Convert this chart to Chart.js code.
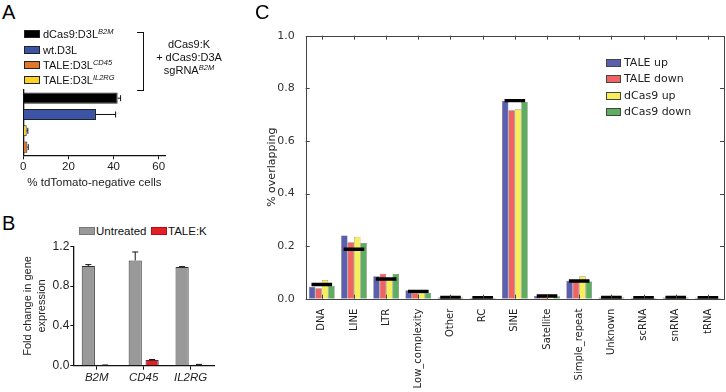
<!DOCTYPE html>
<html>
<head>
<meta charset="utf-8">
<script src="https://cdn.jsdelivr.net/npm/chart.js@4.4.1/dist/chart.umd.min.js"></script>
<style>
  html, body { margin: 0; padding: 0; background: #fff; }
  #wrap { position: relative; width: 726px; height: 392px; overflow: hidden; font-family: "Liberation Sans", Arial, sans-serif; color: #111; }
  canvas { position: absolute; }
  .letter { position: absolute; font-size: 20px; line-height: 20px; color: #000; }
  .lg { position: absolute; font-size: 11px; line-height: 12px; white-space: nowrap; }
  .box { position: absolute; box-sizing: border-box; border: 1px solid #222; }
  sup { font-size: 7.5px; font-style: italic; vertical-align: 0; position: relative; top: -4px; }
  .blk { position: absolute; font-size: 11px; line-height: 12.8px; text-align: center; white-space: nowrap; }
  .lgc { position: absolute; font-family: "DejaVu Sans", sans-serif; font-size: 11px; line-height: 12px; color: #222; white-space: nowrap; }
</style>
</head>
<body>
<div id="wrap">
  <canvas id="cA" width="240" height="115" style="left:0;top:80px;"></canvas>
  <canvas id="cB" width="240" height="154" style="left:0;top:238px;"></canvas>
  <canvas id="cC" width="486" height="392" style="left:240px;top:0;"></canvas>

  <div class="letter" style="left:2px;top:2px;">A</div>
  <div class="letter" style="left:2px;top:213px;">B</div>
  <div class="letter" style="left:255px;top:2px;">C</div>

  <!-- Panel A legend -->
  <div class="box" style="left:24px;top:30px;width:16px;height:8px;background:#000;"></div>
  <div class="lg" style="left:43px;top:28px;">dCas9:D3L<sup>B2M</sup></div>
  <div class="box" style="left:24px;top:46px;width:16px;height:8px;background:#3b54a5;"></div>
  <div class="lg" style="left:43px;top:44px;">wt.D3L</div>
  <div class="box" style="left:24px;top:61px;width:16px;height:8px;background:#e0782b;"></div>
  <div class="lg" style="left:43px;top:59px;">TALE:D3L<sup>CD45</sup></div>
  <div class="box" style="left:24px;top:76px;width:16px;height:8px;background:#f8d523;"></div>
  <div class="lg" style="left:43px;top:74px;">TALE:D3L<sup>IL2RG</sup></div>

  <!-- bracket -->
  <div style="position:absolute;left:137px;top:32px;width:6px;height:57px;border:1.5px solid #111;border-left:none;"></div>
  <div class="blk" style="left:148px;top:38px;width:82px;">dCas9:K<br>+ dCas9:D3A<br>sgRNA<sup>B2M</sup></div>

  <!-- Panel B legend -->
  <div class="box" style="left:79px;top:227px;width:16px;height:8px;background:#999;border-color:#777;"></div>
  <div class="lg" style="left:96px;top:225px;font-size:11.5px;">Untreated</div>
  <div class="box" style="left:151px;top:227px;width:16px;height:8px;background:#e41e26;border-color:#b01015;"></div>
  <div class="lg" style="left:168px;top:225px;font-size:11.5px;">TALE:K</div>

  <!-- Panel C legend -->
  <div class="box" style="left:606px;top:59px;width:15px;height:8px;background:#5c5fae;border-color:#444;"></div>
  <div class="lgc" style="left:624px;top:57px;">TALE up</div>
  <div class="box" style="left:606px;top:75px;width:15px;height:8px;background:#ef6363;border-color:#444;"></div>
  <div class="lgc" style="left:624px;top:73px;">TALE down</div>
  <div class="box" style="left:606px;top:92px;width:15px;height:8px;background:#f7ef5a;border-color:#444;"></div>
  <div class="lgc" style="left:624px;top:90px;">dCas9 up</div>
  <div class="box" style="left:606px;top:108px;width:15px;height:8px;background:#5fae5f;border-color:#444;"></div>
  <div class="lgc" style="left:624px;top:106px;">dCas9 down</div>
</div>

<script>
// ---------- Panel A data ----------
const aCategories = ['dCas9:D3L B2M', 'wt.D3L', 'TALE:D3L IL2RG', 'TALE:D3L CD45'];
const aValues = [41.8, 32.2, 1.5, 1.8];
const aErrors = [1.3, 8.7, 0.5, 0.4];
const aTicks = [0, 20, 40, 60];

// ---------- Panel B data ----------
const bCategories = ['B2M', 'CD45', 'IL2RG'];
const bUntreated = [1.0, 1.057, 0.99];
const bUntreatedErr = [0.015, 0.085, 0.005];
const bTaleK = [0.005, 0.057, 0.01];
const bTaleKErr = [0.002, 0.005, 0.003];
const bTicks = [0, 0.4, 0.8, 1.2];

// ---------- Panel C data ----------
const cCategories = ['DNA', 'LINE', 'LTR', 'Low_complexity', 'Other', 'RC', 'SINE', 'Satellite', 'Simple_repeat', 'Unknown', 'scRNA', 'snRNA', 'tRNA'];
const cTaleUp    = [0.045, 0.240, 0.085, 0.032, 0.005, 0.004, 0.752, 0.010, 0.068, 0.005, 0.004, 0.005, 0.004];
const cTaleDown  = [0.040, 0.215, 0.095, 0.022, 0.005, 0.004, 0.717, 0.009, 0.065, 0.005, 0.004, 0.005, 0.004];
const cDcas9Up   = [0.071, 0.236, 0.078, 0.022, 0.005, 0.004, 0.720, 0.009, 0.085, 0.005, 0.004, 0.005, 0.004];
const cDcas9Down = [0.049, 0.212, 0.094, 0.022, 0.005, 0.004, 0.748, 0.009, 0.065, 0.005, 0.004, 0.005, 0.004];
const cBackground = [0.054, 0.188, 0.075, 0.028, 0.005, 0.004, 0.753, 0.010, 0.067, 0.005, 0.004, 0.005, 0.004];
const cTicks = [0, 0.2, 0.4, 0.6, 0.8, 1.0];

Chart.defaults.animation = false;
Chart.defaults.devicePixelRatio = 1;
Chart.defaults.font.family = '"Liberation Sans", Arial, sans-serif';
Chart.defaults.color = '#222';

// error bar plugin (uses dataset.errors, through the library scales)
const errorBars = {
  id: 'errorBars',
  afterDatasetsDraw(chart, args, opts) {
    const ctx = chart.ctx;
    const horizontal = chart.options.indexAxis === 'y';
    chart.data.datasets.forEach((ds, di) => {
      if (!ds.errors) return;
      const meta = chart.getDatasetMeta(di);
      const vScale = horizontal ? chart.scales.x : chart.scales.y;
      meta.data.forEach((el, i) => {
        const v = ds.data[i], e = ds.errors[i];
        const p0 = vScale.getPixelForValue(v);
        const p1 = vScale.getPixelForValue(v + e);
        const cap = opts.cap || 3;
        ctx.save();
        ctx.strokeStyle = '#111';
        ctx.lineWidth = 1;
        ctx.beginPath();
        if (horizontal) {
          ctx.moveTo(p0, el.y); ctx.lineTo(p1, el.y);
          ctx.moveTo(p1, el.y - cap); ctx.lineTo(p1, el.y + cap);
        } else {
          ctx.moveTo(el.x, p0); ctx.lineTo(el.x, p1);
          ctx.moveTo(el.x - cap, p1); ctx.lineTo(el.x + cap, p1);
        }
        ctx.stroke();
        ctx.restore();
      });
    });
  }
};

// frame with inward ticks for panel C
const frameTicks = {
  id: 'frameTicks',
  afterDraw(chart) {
    const {ctx, chartArea: a, scales: {x, y}} = chart;
    ctx.save();
    ctx.strokeStyle = '#444';
    ctx.lineWidth = 1;
    ctx.strokeRect(Math.round(a.left) + 0.5, Math.round(a.top) + 0.5, Math.round(a.right - a.left), Math.round(a.bottom - a.top));
    ctx.beginPath();
    x.ticks.forEach((t, i) => {
      const px = Math.round(x.getPixelForTick(i)) + 0.5;
      ctx.moveTo(px, a.top); ctx.lineTo(px, a.top + 4);
      ctx.moveTo(px, a.bottom); ctx.lineTo(px, a.bottom - 4);
    });
    y.ticks.forEach((t) => {
      const py = Math.round(y.getPixelForValue(t.value)) + 0.5;
      ctx.moveTo(a.left, py); ctx.lineTo(a.left + 4, py);
      ctx.moveTo(a.right, py); ctx.lineTo(a.right - 4, py);
    });
    ctx.stroke();
    ctx.restore();
  }
};

// ---------- Panel A chart ----------
new Chart(document.getElementById('cA'), {
  type: 'bar',
  data: {
    labels: aCategories,
    datasets: [{
      data: aValues,
      errors: aErrors,
      backgroundColor: ['#000000', '#3b54a5', '#f8d523', '#e0782b'],
      borderColor: '#222',
      borderWidth: 1,
      categoryPercentage: 0.8,
      barPercentage: 0.85
    }]
  },
  options: {
    responsive: false,
    indexAxis: 'y',
    layout: { padding: { top: 10, right: 74.5, left: 0, bottom: 0 } },
    plugins: { legend: { display: false }, tooltip: { enabled: false }, errorBars: { cap: 3 } },
    scales: {
      x: {
        min: 0, max: 63,
        afterBuildTicks: (s) => { s.ticks = aTicks.map(v => ({ value: v })); },
        afterFit: (s) => { s.height = 39.7; },
        grid: { drawOnChartArea: false, drawTicks: true, tickLength: 4, color: '#111' },
        border: { display: true, color: '#111', width: 1.3 },
        ticks: { font: { size: 11.5 }, color: '#222', padding: 1 },
        title: { display: true, text: '% tdTomato-negative cells', font: { size: 11.5 }, color: '#222', padding: { top: 0, bottom: 5 } }
      },
      y: {
        afterFit: (s) => { s.width = 23.3; },
        grid: { display: false },
        border: { display: true, color: '#111', width: 1.3 },
        ticks: { display: false }
      }
    }
  },
  plugins: [errorBars]
});

// ---------- Panel B chart ----------
new Chart(document.getElementById('cB'), {
  type: 'bar',
  data: {
    labels: bCategories,
    datasets: [
      { label: 'Untreated', data: bUntreated, errors: bUntreatedErr, backgroundColor: '#999999', borderColor: '#333', borderWidth: 1, categoryPercentage: 0.72, barPercentage: 0.78 },
      { label: 'TALE:K', data: bTaleK, errors: bTaleKErr, backgroundColor: '#e41e26', borderColor: '#333', borderWidth: 1, categoryPercentage: 0.72, barPercentage: 0.78 }
    ]
  },
  options: {
    responsive: false,
    layout: { padding: { top: 7.7, right: 26, left: 0, bottom: 0 } },
    plugins: { legend: { display: false }, tooltip: { enabled: false }, errorBars: { cap: 3 } },
    scales: {
      x: {
        afterFit: (s) => { s.height = 26.3; },
        grid: { drawOnChartArea: false, drawTicks: true, tickLength: 4, color: '#111', offset: false },
        border: { display: true, color: '#111', width: 1.3 },
        ticks: { font: { size: 11.5, style: 'italic' }, color: '#222', padding: 1 }
      },
      y: {
        min: 0, max: 1.2,
        afterBuildTicks: (s) => { s.ticks = bTicks.map(v => ({ value: v })); },
        afterFit: (s) => { s.width = 73.3; },
        grid: { drawOnChartArea: false, drawTicks: true, tickLength: 3, color: '#111' },
        border: { display: true, color: '#111', width: 1.3 },
        ticks: { font: { size: 12 }, color: '#222', padding: 1, callback: (v) => Number(v).toFixed(1) },
        title: { display: true, text: ['Fold change in gene', 'expression'], font: { size: 11, lineHeight: 1.3 }, color: '#222', padding: { top: 21, bottom: 0 } }
      }
    }
  },
  plugins: [errorBars]
});

// ---------- Panel C chart ----------
const cFont = '"DejaVu Sans", sans-serif';
const cBar = (label, data, color) => ({
  label, data, backgroundColor: color, borderColor: '#555', borderWidth: 0.5,
  categoryPercentage: 0.8, barPercentage: 1.0, order: 1
});
new Chart(document.getElementById('cC'), {
  type: 'bar',
  data: {
    labels: cCategories,
    datasets: [
      cBar('TALE up', cTaleUp, '#5c5fae'),
      cBar('TALE down', cTaleDown, '#ef6363'),
      cBar('dCas9 up', cDcas9Up, '#f7ef5a'),
      cBar('dCas9 down', cDcas9Down, '#5fae5f'),
      {
        label: 'background',
        data: cBackground.map(v => [v - 0.0065, v + 0.0065]),
        backgroundColor: '#000', borderWidth: 0,
        grouped: false, barPercentage: 0.8, order: 0
      }
    ]
  },
  options: {
    responsive: false,
    layout: { padding: { top: 35.7, right: 2, left: 0, bottom: 0 } },
    plugins: { legend: { display: false }, tooltip: { enabled: false } },
    scales: {
      x: {
        afterFit: (s) => { s.height = 93.3; },
        grid: { display: false },
        border: { display: false },
        ticks: { font: { family: cFont, size: 10 }, color: '#222', padding: 2, maxRotation: 90, minRotation: 90, autoSkip: false }
      },
      y: {
        min: 0, max: 1,
        afterBuildTicks: (s) => { s.ticks = cTicks.map(v => ({ value: v })); },
        afterFit: (s) => { s.width = 65.7; },
        grid: { display: false },
        border: { display: false },
        ticks: { font: { family: cFont, size: 11 }, color: '#333', padding: 3, callback: (v) => Number(v).toFixed(1) },
        title: { display: true, text: '% overlapping', font: { family: cFont, size: 11 }, color: '#222', padding: { top: 26, bottom: 0 } }
      }
    }
  },
  plugins: [frameTicks]
});
</script>
</body>
</html>
